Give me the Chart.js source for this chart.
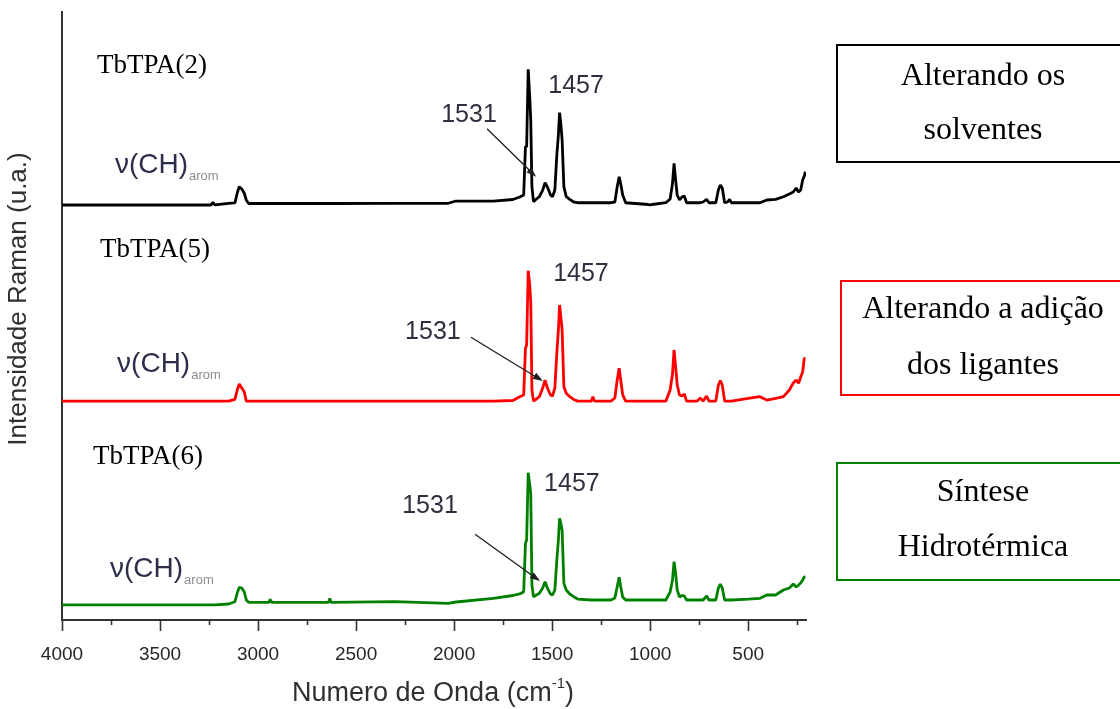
<!DOCTYPE html>
<html>
<head>
<meta charset="utf-8">
<script src="https://cdn.jsdelivr.net/npm/chart.js@4.4.1/dist/chart.umd.min.js"></script>
<style>
  html, body { margin: 0; padding: 0; background: #ffffff; }
  #wrap { width: 1120px; height: 709px; }
</style>
</head>
<body>
<div id="wrap"><canvas id="c" width="1120" height="709"></canvas></div>
<script>
// Raman shift grid (cm-1), shared by the three spectra
const wavenumbers = [4000,3700,3400,3240,3230,3220,3150,3118,3106,3096,
  3083,3070,3060,3048,3000,2945,2938,2930,2640,2634,
  2628,2300,2030,1990,1800,1700,1665,1645,1636,1630,
  1622,1614,1609,1603,1595,1580,1565,1548,1536,1524,
  1508,1498,1486,1476,1468,1462,1455,1449,1440,1428,
  1410,1390,1370,1300,1292,1284,1200,1180,1168,1158,
  1150,1140,1125,1010,1000,990,920,898,886,878,
  870,862,850,838,826,814,760,745,730,712,
  700,665,652,642,632,620,605,595,585,500,
  440,405,360,320,290,270,255,243,232,222,
  214,208];

// Raman intensity (a.u.) of each sample
const tbtpa2 = [0.26,0.26,0.26,0.26,0.70,0.26,0.54,0.59,2.23,3.27,
  2.89,2.18,1.08,0.50,0.50,0.50,0.50,0.50,0.50,0.50,
  0.50,0.54,0.54,0.91,0.91,1.16,1.57,1.90,9.85,9.85,
  22.58,17.86,14.24,3.27,0.80,1.24,1.62,2.72,3.92,3.22,
  1.90,1.62,2.72,8.48,11.77,15.44,13.41,10.95,3.27,1.62,
  1.19,0.75,0.63,0.63,0.63,0.63,0.63,0.75,3.27,4.91,
  3.71,1.90,0.63,0.34,0.26,0.34,0.63,1.24,3.82,7.12,
  4.37,1.90,1.08,1.57,1.74,0.63,0.63,0.63,0.75,1.19,
  0.63,0.63,2.72,3.55,3.05,0.63,0.75,1.19,0.63,0.63,
  0.63,1.08,1.19,1.62,2.07,2.39,3.05,2.39,2.72,4.37,
  5.00,5.73];

const tbtpa5 = [0,0,0,0,0,0,0,0.30,1.83,2.82,
  2.16,1.50,0,0,0,0,0,0,0,0,
  0,0,0,0,0,0.10,0.73,1.01,8.69,9.23,
  21.45,19.10,16.35,1.83,0,0.35,0.73,2.16,3.47,2.16,
  1.01,0.84,2.16,7.87,11.70,15.81,13.67,11.70,2.37,1.29,
  0.73,0.27,0,0,0.73,0,0,0.51,3.47,5.40,
  3.47,1.01,0,0,0,0,0,1.83,4.46,8.41,
  5.66,2.65,1.01,0.84,1.17,0,0,0.51,0,0.84,
  0,0,2.65,3.36,2.65,0,0,0,0,0.46,
  0.73,0.18,0.46,0.73,1.83,2.98,3.47,2.93,3.97,4.79,
  7.04,7.04];

const tbtpa6 = [0,0,0,0,0,0,0.13,0.51,1.94,2.85,
  2.76,2.11,0.79,0.41,0.41,0.41,0.90,0.41,0.41,1.07,
  0.41,0.51,0.25,0.46,1.07,1.53,1.78,2.15,10.10,10.66,
  21.73,19.70,18.34,3.26,1.33,1.61,1.89,2.76,3.80,2.71,
  1.78,1.61,2.43,7.37,10.66,14.23,13.29,12.30,3.54,2.43,
  1.78,1.33,0.95,0.79,0.79,0.79,0.79,1.12,2.98,4.52,
  2.98,1.28,0.79,0.79,0.79,0.79,0.79,2.11,4.08,7.09,
  5.18,2.43,1.28,1.53,1.45,0.79,0.79,0.79,0.79,1.45,
  0.79,0.79,2.76,3.42,2.76,0.79,0.79,0.79,0.79,0.95,
  1.07,1.61,1.61,2.43,2.76,3.42,2.93,3.26,3.59,4.08,
  4.57,4.62];

const sampleNames = ['TbTPA(2)', 'TbTPA(5)', 'TbTPA(6)'];
const stackOffsets = [68, 36, 2.5];          // vertical stacking of the spectra
const seriesColors = ['#000000', '#ff0000', '#008000'];
const xTickValues = [4000,3750,3500,3250,3000,2750,2500,2250,2000,1750,1500,1250,1000,750,500,250];
const peakTags = ['1531', '1457'];
const bandLabel = ['\u03bd(CH)', 'arom'];
const methodNotes = [
  ['Alterando os', 'solventes'],
  ['Alterando a adi\u00e7\u00e3o', 'dos ligantes'],
  ['S\u00edntese', 'Hidrot\u00e9rmica']
];

// label anchors in data units: [wavenumber, axis value]
const labelAnchors = [
  { name: [3821, 91.1], band: [3730, 73.5], tag1531: [1924, 83.1], tag1457: [1378, 87.8], arrow: [[1832, 80.8], [1582, 72.9]] },
  { name: [3806, 60.9], band: [3719, 40.8], tag1531: [2108, 47.4], tag1457: [1353, 56.9], arrow: [[1914, 46.5], [1547, 39.3]] },
  { name: [3842, 26.8], band: [3755, 7.1],  tag1531: [2123, 18.75], tag1457: [1399, 22.4], arrow: [[1893, 14.1], [1562, 6.4]] }
];

const spectra = [tbtpa2, tbtpa5, tbtpa6];

const SANS = '"Liberation Sans", Arial, sans-serif';
const SERIF = '"Liberation Serif", "Times New Roman", serif';

const datasets = spectra.map((vals, i) => ({
  label: sampleNames[i],
  data: wavenumbers.map((w, k) => ({ x: w, y: vals[k] + stackOffsets[i] })),
  borderColor: seriesColors[i],
  borderWidth: 2.8,
  borderJoinStyle: 'bevel',
  pointRadius: 0,
  tension: 0,
  fill: false
}));

function drawArrow(ctx, x1, y1, x2, y2) {
  const ang = Math.atan2(y2 - y1, x2 - x1);
  const len = 10, half = 3.5;
  ctx.beginPath();
  ctx.moveTo(x1, y1);
  ctx.lineTo(x2 - Math.cos(ang) * len * 0.6, y2 - Math.sin(ang) * len * 0.6);
  ctx.stroke();
  ctx.beginPath();
  ctx.moveTo(x2, y2);
  ctx.lineTo(x2 - Math.cos(ang) * len + Math.sin(ang) * half, y2 - Math.sin(ang) * len - Math.cos(ang) * half);
  ctx.lineTo(x2 - Math.cos(ang) * len - Math.sin(ang) * half, y2 - Math.sin(ang) * len + Math.cos(ang) * half);
  ctx.closePath();
  ctx.fill();
}

const decorations = {
  id: 'decorations',
  afterDraw(chart) {
    const ctx = chart.ctx;
    const xs = chart.scales.x, ys = chart.scales.y;
    const area = chart.chartArea;
    const px = w => xs.getPixelForValue(w);
    const py = v => ys.getPixelForValue(v);
    ctx.save();

    // tick marks below the wavenumber axis
    ctx.strokeStyle = '#333333';
    ctx.lineWidth = 1.6;
    xTickValues.forEach(v => {
      const x = Math.round(px(v)) + 0.5;
      const len = v % 500 === 0 ? 11 : 5;
      ctx.beginPath();
      ctx.moveTo(x, area.bottom);
      ctx.lineTo(x, area.bottom + len);
      ctx.stroke();
    });

    // axis titles
    ctx.fillStyle = '#303030';
    ctx.font = '26px ' + SANS;
    ctx.textAlign = 'center';
    ctx.textBaseline = 'middle';
    ctx.save();
    ctx.translate(19, 299);
    ctx.rotate(-Math.PI / 2);
    ctx.fillText('Intensidade Raman (u.a.)', 0, 0);
    ctx.restore();

    const main = 'Numero de Onda (cm', sup = '-1', tail = ')';
    ctx.font = '27px ' + SANS;
    const wMain = ctx.measureText(main).width, wTail = ctx.measureText(tail).width;
    ctx.font = '15px ' + SANS;
    const wSup = ctx.measureText(sup).width;
    const total = wMain + wSup + wTail;
    let tx = 433 - total / 2;
    const ty = 701;
    ctx.textAlign = 'left';
    ctx.textBaseline = 'alphabetic';
    ctx.font = '27px ' + SANS;
    ctx.fillText(main, tx, ty);
    ctx.font = '15px ' + SANS;
    ctx.fillText(sup, tx + wMain, ty - 13);
    ctx.font = '27px ' + SANS;
    ctx.fillText(tail, tx + wMain + wSup, ty);

    // per-spectrum labels
    labelAnchors.forEach((a, i) => {
      ctx.fillStyle = '#000000';
      ctx.font = '27px ' + SERIF;
      ctx.textAlign = 'left';
      ctx.textBaseline = 'middle';
      ctx.fillText(sampleNames[i], px(a.name[0]), py(a.name[1]));

      ctx.textBaseline = 'alphabetic';
      ctx.fillStyle = '#2c2e4a';
      ctx.font = '28px ' + SANS;
      const bx = px(a.band[0]), by = py(a.band[1]);
      ctx.fillText(bandLabel[0], bx, by);
      const bw = ctx.measureText(bandLabel[0]).width;
      ctx.fillStyle = '#8c8c94';
      ctx.font = '13px ' + SANS;
      ctx.fillText(bandLabel[1], bx + bw + 1, by + 7);

      ctx.fillStyle = '#2f2f3f';
      ctx.font = '25px ' + SANS;
      ctx.textAlign = 'center';
      ctx.textBaseline = 'middle';
      ctx.fillText(peakTags[0], px(a.tag1531[0]), py(a.tag1531[1]));
      ctx.fillText(peakTags[1], px(a.tag1457[0]), py(a.tag1457[1]));

      ctx.strokeStyle = '#1e1e1e';
      ctx.fillStyle = '#1e1e1e';
      ctx.lineWidth = 1.3;
      drawArrow(ctx, px(a.arrow[0][0]), py(a.arrow[0][1]), px(a.arrow[1][0]), py(a.arrow[1][1]));
    });

    // synthesis-route notes beside the spectra
    const boxes = [
      { top: 45, bottom: 162, left: 837, color: '#000000', lines: [77, 131] },
      { top: 281, bottom: 395, left: 841, color: '#ff0000', lines: [310, 366] },
      { top: 463, bottom: 580, left: 837, color: '#008000', lines: [493, 548] }
    ];
    boxes.forEach((b, i) => {
      ctx.strokeStyle = b.color;
      ctx.lineWidth = 2;
      ctx.strokeRect(b.left, b.top, 1130 - b.left, b.bottom - b.top);
      ctx.fillStyle = '#000000';
      ctx.font = '32px ' + SERIF;
      ctx.textAlign = 'center';
      ctx.textBaseline = 'middle';
      methodNotes[i].forEach((t, k) => ctx.fillText(t, 983, b.lines[k]));
    });

    ctx.restore();
  }
};

new Chart(document.getElementById('c'), {
  type: 'line',
  data: { datasets: datasets },
  options: {
    responsive: false,
    animation: false,
    devicePixelRatio: 1,
    layout: { padding: { left: 0, top: 12, right: 314, bottom: 0 } },
    plugins: { legend: { display: false }, tooltip: { enabled: false } },
    scales: {
      x: {
        type: 'linear',
        reverse: true,
        min: 205,
        max: 4000,
        afterBuildTicks: s => { s.ticks = xTickValues.map(v => ({ value: v })); },
        afterFit: s => { s.height = 89; },
        ticks: {
          autoSkip: false,
          maxRotation: 0,
          padding: 12,
          color: '#262626',
          font: { family: SANS, size: 19 },
          callback: v => (v % 500 === 0 ? String(v) : '')
        },
        grid: { display: true, drawOnChartArea: false, drawTicks: true, tickLength: 11, color: 'rgba(0,0,0,0)' },
        border: { display: true, color: '#333333', width: 2 }
      },
      y: {
        type: 'linear',
        min: 0,
        max: 100,
        afterFit: s => { s.width = 62; },
        ticks: { display: false },
        grid: { display: false, drawTicks: false },
        border: { display: true, color: '#333333', width: 2 }
      }
    }
  },
  plugins: [decorations]
});
</script>
</body>
</html>
